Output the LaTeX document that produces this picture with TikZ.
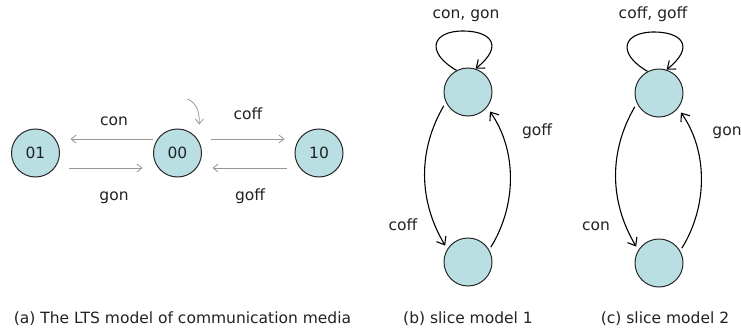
\documentclass[tikz,border=0pt]{standalone}
\usepackage{fontspec}
\setmainfont{DejaVu Sans}
\usetikzlibrary{arrows.meta,calc}
\definecolor{statefill}{RGB}{185,223,227}
\definecolor{stateline}{RGB}{40,40,40}
\definecolor{grayline}{RGB}{150,150,150}
\definecolor{txt}{RGB}{34,34,34}
\begin{document}
\begin{tikzpicture}[x=1pt,y=-1pt,
  state/.style={circle,draw=stateline,fill=statefill,line width=1pt,minimum size=48pt,inner sep=0pt,text=txt,font=\fontsize{15.5}{18}\selectfont},
  lbl/.style={anchor=base,text=txt,inner sep=0pt,font=\fontsize{15.5}{18}\selectfont},
  garrow/.style={draw=grayline,line width=0.8pt,-{Straight Barb[length=5pt,width=8pt]}},
  barrow/.style={draw=black,line width=1.1pt,-{Straight Barb[length=7pt,width=11pt]}}]
\useasboundingbox (0,0) rectangle (741,329);
% (a)
\node[state] (n01) at (35.5,153) {01};
\node[state] (n00) at (177.5,153) {00};
\node[state] (n10) at (319,153) {10};
\draw[garrow,shorten >=10.5pt] ([yshift=14pt]n00.west) -- ([yshift=14pt]n01.east);
\draw[garrow,shorten <=8.5pt,shorten >=10.5pt] ([yshift=-15pt]n01.east) -- ([yshift=-15pt]n00.west);
\draw[garrow,shorten <=8.5pt,shorten >=10pt] ([yshift=14pt]n00.east) -- ([yshift=14pt]n10.west);
\draw[garrow,shorten <=8pt,shorten >=10.5pt] ([yshift=-15pt]n10.west) -- ([yshift=-15pt]n00.east);
\coordinate (init) at (187.5,99);
\draw[garrow] (init) .. controls (196,103) and (199.5,110) .. ([xshift=21.8pt,yshift=4pt]n00.north);
\node[lbl] (lcon) at (114,125) {con};
\node[lbl] (lgon) at (114,200) {gon};
\node[lbl] (lcoff) at (248,119) {coff};
\node[lbl] (lgoff) at (250,200) {goff};
\node[lbl] (capa) at (182.5,323) {(a) The LTS model of communication media};
% (b)
\node[state] (t1) at (468,92) {};
\node[state] (b1) at (468,262) {};
\draw[barrow] (t1.118) .. controls ($(t1)+(-43,-40)$) and ($(t1)+(-36,-61)$) .. ($(t1)+(-5,-61)$)
  .. controls ($(t1)+(22,-61)$) and ($(t1)+(37,-47)$) .. (t1.72);
\draw[barrow,shorten <=4pt,shorten >=4pt] (t1.205) .. controls (418,150) and (418,200) .. (b1.148);
\draw[barrow,shorten <=3pt,shorten >=5pt] (b1.30) .. controls (517,205) and (517,150) .. (t1.321);
\node[lbl] (lcg) at (466,19) {con, gon};
\node[lbl] (lcoff1) at (403,230) {coff};
\node[lbl] (lgoff1) at (537,135) {goff};
\node[lbl] (capb) at (468,323) {(b) slice model 1};
% (c)
\node[state] (t2) at (659,93) {};
\node[state] (b2) at (659,263) {};
\draw[barrow] (t2.118) .. controls ($(t2)+(-43,-40)$) and ($(t2)+(-36,-61)$) .. ($(t2)+(-5,-61)$)
  .. controls ($(t2)+(22,-61)$) and ($(t2)+(37,-47)$) .. (t2.72);
\draw[barrow,shorten <=4pt,shorten >=4pt] (t2.205) .. controls (609,151) and (609,201) .. (b2.148);
\draw[barrow,shorten <=3pt,shorten >=5pt] (b2.30) .. controls (708,206) and (708,151) .. (t2.321);
\node[lbl] (lcfg) at (653,19) {coff, goff};
\node[lbl] (lcon2) at (596,230) {con};
\node[lbl] (lgon2) at (727,135) {gon};
\node[lbl] (capc) at (665,323) {(c) slice model 2};
\end{tikzpicture}
\end{document}
